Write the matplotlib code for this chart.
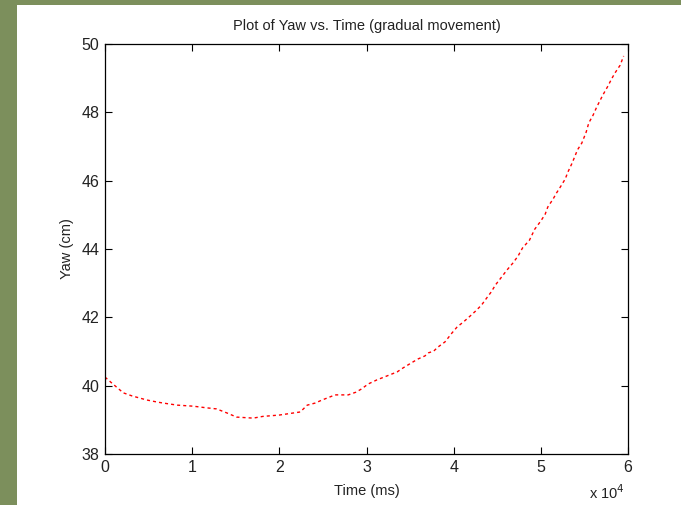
import matplotlib
matplotlib.use("Agg")
import matplotlib.pyplot as plt
from matplotlib.patches import Rectangle

# Time in units of 10^4 ms
time_e4 = [0, 0.09, 0.21, 0.31, 0.48, 0.6, 0.67, 0.83, 1.01, 1.17,
           1.28, 1.4, 1.51, 1.7, 1.81, 2.0, 2.16, 2.24, 2.32, 2.41,
           2.49, 2.58, 2.64, 2.72, 2.79, 2.88, 2.94, 3.02, 3.12, 3.17,
           3.26, 3.35, 3.42, 3.51, 3.59, 3.67, 3.71, 3.77, 3.82, 3.9,
           3.98, 4.04, 4.11, 4.19, 4.25, 4.32, 4.38, 4.43, 4.48, 4.55,
           4.61, 4.68, 4.74, 4.79, 4.87, 4.93, 5.0, 5.05, 5.08, 5.14,
           5.18, 5.23, 5.28, 5.31, 5.36, 5.42, 5.47, 5.52, 5.55, 5.6,
           5.64, 5.71, 5.77, 5.81, 5.85, 5.91, 5.95]
yaw_cm = [40.25, 40.05, 39.79, 39.7, 39.58, 39.52, 39.49, 39.43, 39.4, 39.35,
          39.32, 39.2, 39.08, 39.05, 39.1, 39.14, 39.2, 39.23, 39.43, 39.49,
          39.58, 39.67, 39.73, 39.73, 39.73, 39.81, 39.9, 40.05, 40.17, 40.22,
          40.31, 40.4, 40.52, 40.66, 40.78, 40.87, 40.96, 41.01, 41.13, 41.28,
          41.54, 41.72, 41.86, 42.04, 42.18, 42.36, 42.57, 42.74, 42.95, 43.18,
          43.38, 43.59, 43.8, 44.03, 44.26, 44.58, 44.82, 45.02, 45.23, 45.46,
          45.64, 45.84, 46.05, 46.25, 46.52, 46.9, 47.1, 47.42, 47.69, 47.92,
          48.15, 48.5, 48.77, 48.97, 49.15, 49.38, 49.65]
x_ticks = [0, 1, 2, 3, 4, 5, 6]
y_ticks = [38, 40, 42, 44, 46, 48, 50]

plt.rcParams['font.family'] = ['Liberation Sans', 'DejaVu Sans']

W, H = 681, 505
fig = plt.figure(figsize=(W / 100, H / 100), dpi=100, facecolor='#7c8f5c')
fig.patches.append(Rectangle((17 / W, 0), 1 - 17 / W, 1 - 5 / H,
                             transform=fig.transFigure, facecolor='white',
                             edgecolor='none', zorder=-10))

ax = fig.add_axes([105 / W, 51 / H, 523 / W, 410 / H])
ax.set_zorder(1)
ax.plot(time_e4, yaw_cm, color='red', linestyle=(0, (2.2, 2.2)), linewidth=1.0)
ax.set_xlim(0, 6)
ax.set_ylim(38, 50)
ax.set_xticks(x_ticks)
ax.set_yticks(y_ticks)
ax.tick_params(direction='in', top=True, right=True, length=5, width=0.8,
               labelsize=11.5, pad=4, labelcolor='#222222')
for s in ax.spines.values():
    s.set_linewidth(0.9)
    s.set_color('black')

ax.set_title('Plot of Yaw vs. Time (gradual movement)', fontsize=10.5, pad=10,
             color='#222222')
ax.set_xlabel('Time (ms)', fontsize=10.5, labelpad=7, color='#222222')
ax.set_ylabel('Yaw (cm)', fontsize=10.5, labelpad=5, color='#222222')
t = fig.text(607 / W, 1 - 493 / H, 'x 10$^4$', fontsize=10.5, ha='center',
             va='center', color='#222222')
t.set_zorder(5)

fig.savefig('out.png', dpi=100, facecolor=fig.get_facecolor())
